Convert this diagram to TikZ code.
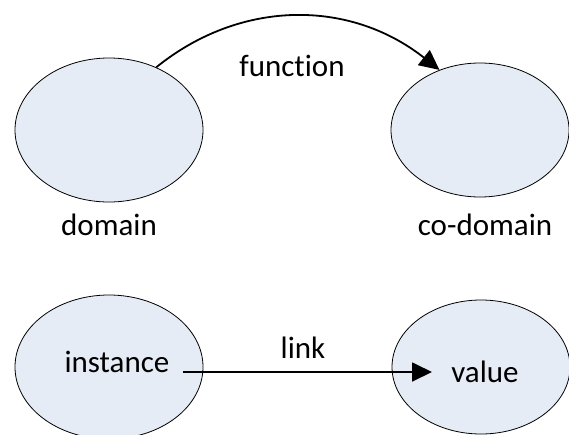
\documentclass[tikz,border=0pt]{standalone}
\usepackage{fontspec}
\setmainfont{Carlito}[Ligatures=NoCommon]
\usetikzlibrary{arrows.meta,shapes.geometric}
\definecolor{setfill}{HTML}{E6ECF6}
\tikzset{
  setnode/.style={ellipse, draw=black, line width=0.8pt, fill=setfill, inner sep=0pt},
  lbl/.style={anchor=base, inner sep=0pt, font=\fontsize{31}{37}\selectfont},
  mapping/.style={draw=black, line width=1.8pt, -{Triangle[length=20pt,width=19pt]}}
}
\begin{document}
\begin{tikzpicture}[x=1pt,y=-1pt]
  \useasboundingbox (0,0) rectangle (569,434);
  \clip (0,0) rectangle (569,434);

  % upper pair: domain and co-domain
  \node[setnode, minimum width=188pt, minimum height=144pt] (dom) at (109,130) {};
  \node[setnode, minimum width=178pt, minimum height=134pt] (cod) at (480,130) {};
  \node[lbl] (domtxt) at (109,235) {domain};
  \node[lbl] (codtxt) at (485,235) {co-domain};
  \node[lbl] (fun) at (292,76) {function};
  \draw[mapping] (dom.53) .. controls +(84,-68) and +(-90,-71) .. (cod.124);

  % lower pair: instance and value
  \node[setnode, minimum width=188pt, minimum height=144pt] (inst) at (109,367) {};
  \node[setnode, minimum width=178pt, minimum height=134pt] (val) at (481,367) {};
  \node[lbl] (insttxt) at (117,372) {instance};
  \node[lbl] (valtxt) at (485,382) {value};
  \node[lbl] (lnk) at (303,358) {link};
  \coordinate (ls) at (183,372);
  \coordinate (le) at (432,372);
  \draw[mapping] (ls) -- (le);
\end{tikzpicture}
\end{document}
